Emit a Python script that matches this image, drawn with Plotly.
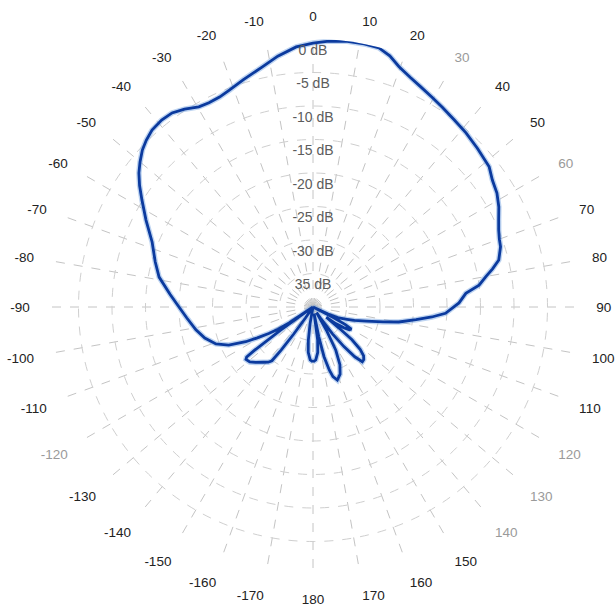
import plotly.graph_objects as go

# Measured radiation pattern (azimuth in degrees, relative gain in dB)
theta_deg = [
    -180, -177, -174, -172, -170, -168, -160, -150, -146,
    -145.5, -144.5, -143.5, -142.6, -141, -138, -134, -131, -128, -127,
    -126.5, -125.5, -124.8, -124.5, -123.7, -122.5, -120.9, -119, -117.3,
    -114.3, -110.8, -106, -101, -95, -90, -85, -79, -74, -68, -62.5, -58,
    -55, -52.4, -50, -47.4, -45, -42.3, -39, -36, -33, -29.7, -27, -24,
    -21, -17, -12, -8, -3.7, 0, 3, 7, 11, 14.3, 17, 19.7, 23, 26, 29.5,
    33, 37, 41.3, 46, 51.5, 54.7, 58.2, 61.7, 64.9, 67.5, 70, 72.2, 75.8,
    78, 80, 82.5, 84.9, 88.4, 92.7, 94.8, 97, 99.9, 102, 104.8, 108, 110,
    113, 115, 116.5, 117.5, 118.5, 120, 122, 124, 126, 127.5, 129, 130,
    132, 134, 136, 138, 140, 142, 144, 146, 148, 150, 152.2, 155, 158,
    161.6, 164, 165.5, 167.5, 169, 170.5, 172, 174, 177, 180,
]
gain_db = [
    -31.8, -32.1, -33.2, -35.0, -37.5, -40.0, -40.0, -40.0, -40.0,
    -38.0, -35.0, -32.0, -29.9, -29.4, -28.9, -28.1, -27.5, -27.3, -27.6,
    -29.0, -34.0, -39.0, -40.0, -35.7, -33.8, -32.3, -30.5, -28.7,
    -26.2, -24.5, -23.2, -22.2, -21.1, -20.0, -18.6, -16.6, -15.5, -14.1, -11.9, -9.9,
    -8.4, -7.2, -6.3, -5.4, -4.8, -4.3, -4.1, -4.2, -4.8, -5.6, -5.8, -5.7,
    -5.3, -4.5, -3.4, -2.2, -1.1, -0.6, -0.3, 0.0, 0.0, -0.1, -0.8, -1.9, -2.8, -3.4, -4.0,
    -4.5, -5.0, -5.4, -5.9, -6.4, -7.2, -7.7, -8.5, -9.4, -10.0, -10.4, -10.6, -11.4,
    -12.6, -13.8, -15.0, -17.1, -18.2, -20.2, -22.2, -24.5, -27.0, -29.3, -31.8, -33.5, -34.6,
    -35.8, -37.5, -40.0, -36.5, -34.5, -33.4, -33.6, -34.5, -35.8, -37.5, -35.0, -32.4,
    -30.5, -29.5, -29.1, -29.0, -30.3, -32.5, -35.0, -38.0, -39.0, -36.0, -32.7, -30.5, -29.2,
    -28.5, -29.2, -30.3, -32.4, -35.5, -39.0, -35.0, -33.2, -32.1, -31.8,
]

# Radial scale and its labels
r_min, r_max = -40, 0
ring_values = [-35, -30, -25, -20, -15, -10, -5, 0]
ring_labels = ["35 dB", "-30 dB", "-25 dB", "-20 dB", "-15 dB", "-10 dB", "-5 dB", "0 dB"]
label_drop_db = 1.85  # dB labels sit just inside their ring

# Azimuth ticks every 10 degrees, labelled -170..180
angle_ticks = list(range(0, 360, 10))
angle_labels = [a if a <= 180 else a - 360 for a in angle_ticks]
faded_labels = [30, 60, 120, 130, 140, -120]


def tick_text(v):
    if v in faded_labels:
        return f'<span style="color:#9a9a9a">{v}</span>'
    return str(v)


fig = go.Figure()

# soft halo under the pattern line
fig.add_trace(go.Scatterpolar(
    r=gain_db + gain_db[:1], theta=theta_deg + theta_deg[:1],
    mode="lines", line=dict(color="rgba(110,160,225,0.45)", width=5.5),
    hoverinfo="skip", showlegend=False,
))
fig.add_trace(go.Scatterpolar(
    r=gain_db + gain_db[:1], theta=theta_deg + theta_deg[:1],
    mode="lines", line=dict(color="#0b3a9e", width=2.8),
    name="pattern", showlegend=False,
))

# dB labels running up the 0-degree spoke
fig.add_trace(go.Scatterpolar(
    r=[v - label_drop_db for v in ring_values], theta=[0] * len(ring_values),
    mode="text", text=ring_labels, textposition="middle center",
    textfont=dict(family="Liberation Sans, Arial, sans-serif", size=14, color="#5c5c5c"),
    hoverinfo="skip", showlegend=False,
))

fig.update_layout(
    width=616, height=613,
    margin=dict(l=0, r=0, t=0, b=0),
    paper_bgcolor="white",
    font=dict(family="Liberation Sans, Arial, sans-serif", size=14, color="#222222"),
    polar=dict(
        domain=dict(x=[45 / 616, 581 / 616], y=[38 / 613, 574 / 613]),
        bgcolor="white",
        radialaxis=dict(
            range=[r_min, r_max], tickvals=ring_values, showticklabels=False,
            showline=False, ticks="", gridcolor="#cfcfcf", gridwidth=1, griddash="dash",
            angle=90,
        ),
        angularaxis=dict(
            rotation=90, direction="clockwise",
            tickvals=angle_ticks, ticktext=[tick_text(v) for v in angle_labels],
            showline=False, ticks="outside", ticklen=12, tickcolor="rgba(0,0,0,0)",
            gridcolor="#c4c4c4", gridwidth=1, griddash="dash",
            tickfont=dict(size=13.5, color="#222222"),
        ),
    ),
)

fig.write_html("out.html")
